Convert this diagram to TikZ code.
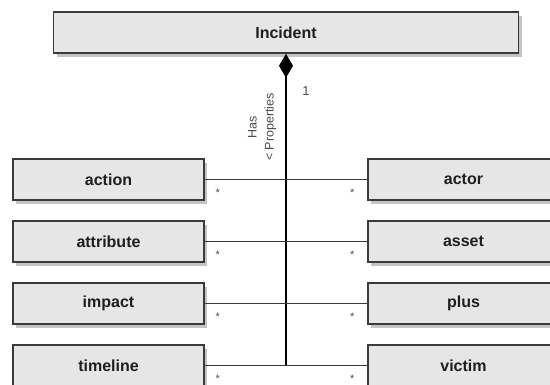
\documentclass[tikz,border=0pt]{standalone}
\usepackage{fontspec}
\setmainfont{Liberation Sans}
\usetikzlibrary{arrows.meta,shadows}

\definecolor{boxfill}{HTML}{E6E6E6}
\definecolor{boxline}{HTML}{3A3A3A}
\definecolor{shade}{HTML}{C4C4C4}
\definecolor{txt}{HTML}{1E1E1E}
\definecolor{note}{HTML}{4A4A4A}

\tikzset{
  classbox/.style={draw=boxline, line width=1.6pt, fill=boxfill,
    minimum height=41pt, inner sep=0pt, text=txt,
    font=\fontsize{16}{19}\selectfont\bfseries,
    drop shadow={shadow xshift=3pt, shadow yshift=-4pt, fill=shade, opacity=1}},
  smallbox/.style={classbox, minimum width=191pt},
  trunk/.style={line width=1.6pt, draw=black},
  branch/.style={line width=1.2pt, draw=boxline},
  mult/.style={text=note, inner sep=0pt, anchor=base, font=\fontsize{11}{13}\selectfont},
}

\begin{document}
\begin{tikzpicture}[x=1pt, y=-1pt]
\useasboundingbox (0,0) rectangle (550,385);

% root class
\node[classbox, minimum width=465pt] (inc) at (286,32.5) {Incident};

% property classes, left and right columns
\node[smallbox] (action)    at (108.5,179.5) {action};
\node[smallbox] (attribute) at (108.5,241.5) {attribute};
\node[smallbox] (impact)    at (108.5,303.5) {impact};
\node[smallbox] (timeline)  at (108.5,365.5) {timeline};

\node[smallbox] (actor)  at (463.5,179.5) {actor};
\node[smallbox] (asset)  at (463.5,241.5) {asset};
\node[smallbox] (plus)   at (463.5,303.5) {plus};
\node[smallbox] (victim) at (463.5,365.5) {victim};

% composition trunk with filled diamond at the Incident end
\coordinate (foot) at (inc.south |- timeline.east);
\draw[trunk, {Diamond[length=24pt, width=14pt]}-] (inc.south) -- (foot);

% branches to each property class
\foreach \l/\r in {action/actor, attribute/asset, impact/plus, timeline/victim}{
  \draw[branch] (\l.east) -- (\r.west);
  \node[mult] at ([xshift=13pt, yshift=-17pt]\l.east) {*};
  \node[mult] at ([xshift=-15pt, yshift=-17pt]\r.west) {*};
}

% association labels
\node[text=note, font=\fontsize{13}{15}\selectfont, inner sep=0pt] (one) at (306,91) {1};
\node[text=note, font=\fontsize{12.5}{17}\selectfont, align=center, rotate=90, inner sep=0pt]
  (role) at (262,127) {Has\\< Properties};
\end{tikzpicture}
\end{document}
